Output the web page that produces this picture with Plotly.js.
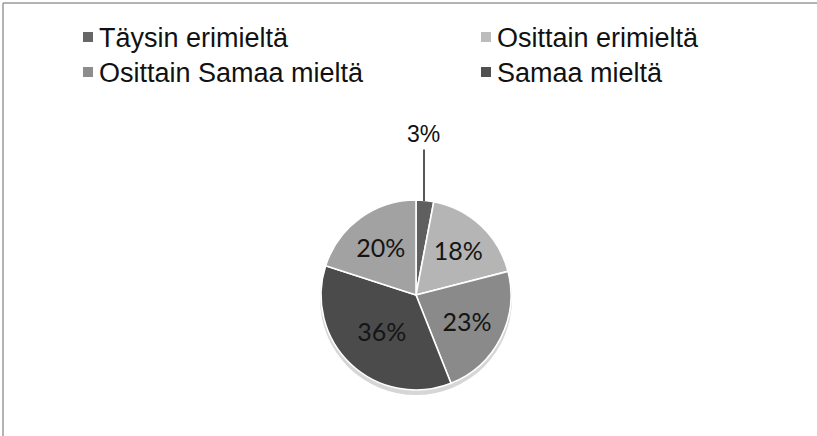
<!DOCTYPE html>
<html>
<head>
<meta charset="utf-8">
<script src="https://cdn.plot.ly/plotly-3.0.1.min.js"></script>
<style>
  html, body { margin: 0; padding: 0; background: #fff; }
  #chart { width: 817px; height: 436px; }
</style>
</head>
<body>
<div id="chart"></div>
<script>
// Survey answers, share of respondents (%), clockwise from 12 o'clock
const categories = ["Täysin erimieltä", "Osittain erimieltä", "Osittain Samaa mieltä", "Samaa mieltä", "Muu"];
const shares = [3, 18, 23, 36, 20];
const sliceColors = ["#5f5f5f", "#b5b5b5", "#8a8a8a", "#4b4b4b", "#a2a2a2"];
const legendCategories = ["Täysin erimieltä", "Osittain erimieltä", "Osittain Samaa mieltä", "Samaa mieltä"];
const legendColors = ["#676767", "#bcbcbc", "#8d8d8d", "#505050"];

const W = 817, H = 436;
const px = x => x / W;
const py = y => 1 - y / H;

// the smallest slice gets its label outside, on a leader line
const smallIdx = 0;
const texts = shares.map((v, i) => i === smallIdx ? "" : v + "%");

const pie = {
  type: "pie",
  labels: categories,
  values: shares,
  sort: false,
  direction: "clockwise",
  rotation: 0,
  text: texts,
  textinfo: "text",
  textposition: "inside",
  insidetextorientation: "horizontal",
  textfont: { family: "Lato, 'Open Sans', sans-serif", size: 25, color: "#151515" },
  marker: { colors: sliceColors, line: { color: "#ffffff", width: 1.6 } },
  domain: { x: [px(321), px(511)], y: [py(390), py(200)] },
  showlegend: false,
  hoverinfo: "label+percent"
};

// soft shadow under the pie
const shadow = {
  type: "pie",
  labels: ["s"],
  values: [1],
  textinfo: "none",
  marker: { colors: ["rgba(0,0,0,0.16)"], line: { width: 0 } },
  domain: { x: [px(318), px(514)], y: [py(395), py(203)] },
  showlegend: false,
  hoverinfo: "skip"
};

const annotations = [];
const shapes = [];

// custom two-column legend
const legendFont = { family: "'Liberation Sans', Arial, sans-serif", size: 27, color: "#111" };
const legendPos = [[83, 37], [481, 37], [83, 72], [481, 72]];
legendCategories.forEach((name, i) => {
  const [x, y] = legendPos[i];
  shapes.push({
    type: "rect", xref: "paper", yref: "paper",
    x0: px(x), x1: px(x + 10), y0: py(y + 5), y1: py(y - 5),
    fillcolor: legendColors[i], line: { width: 0 }
  });
  annotations.push({
    xref: "paper", yref: "paper", x: px(x + 14), y: py(y + 1),
    xanchor: "left", yanchor: "middle", showarrow: false,
    text: name, font: legendFont
  });
});

// outside label for the smallest slice
annotations.push({
  xref: "paper", yref: "paper",
  x: px(424), y: py(201),
  ax: 0, ay: -53,
  showarrow: true, arrowhead: 0, arrowwidth: 1.4, arrowcolor: "#111",
  text: "", standoff: 0
});
annotations.push({
  xref: "paper", yref: "paper", x: px(423), y: py(134),
  xanchor: "center", yanchor: "middle", showarrow: false,
  text: shares[smallIdx] + "%",
  font: { family: "'Liberation Sans', Arial, sans-serif", size: 23, color: "#111" }
});

// chart frame
shapes.push({ type: "line", xref: "paper", yref: "paper", x0: px(3), x1: 1.02, y0: py(3), y1: py(3), line: { color: "#9a9a9a", width: 1.5 } });
shapes.push({ type: "line", xref: "paper", yref: "paper", x0: px(3), x1: px(3), y0: py(3), y1: -0.02, line: { color: "#9a9a9a", width: 1.5 } });

const layout = {
  width: W, height: H,
  margin: { l: 0, r: 0, t: 0, b: 0 },
  paper_bgcolor: "#ffffff",
  plot_bgcolor: "#ffffff",
  shapes: shapes,
  annotations: annotations
};

Plotly.newPlot("chart", [shadow, pie], layout, { displayModeBar: false, staticPlot: true });
</script>
</body>
</html>
